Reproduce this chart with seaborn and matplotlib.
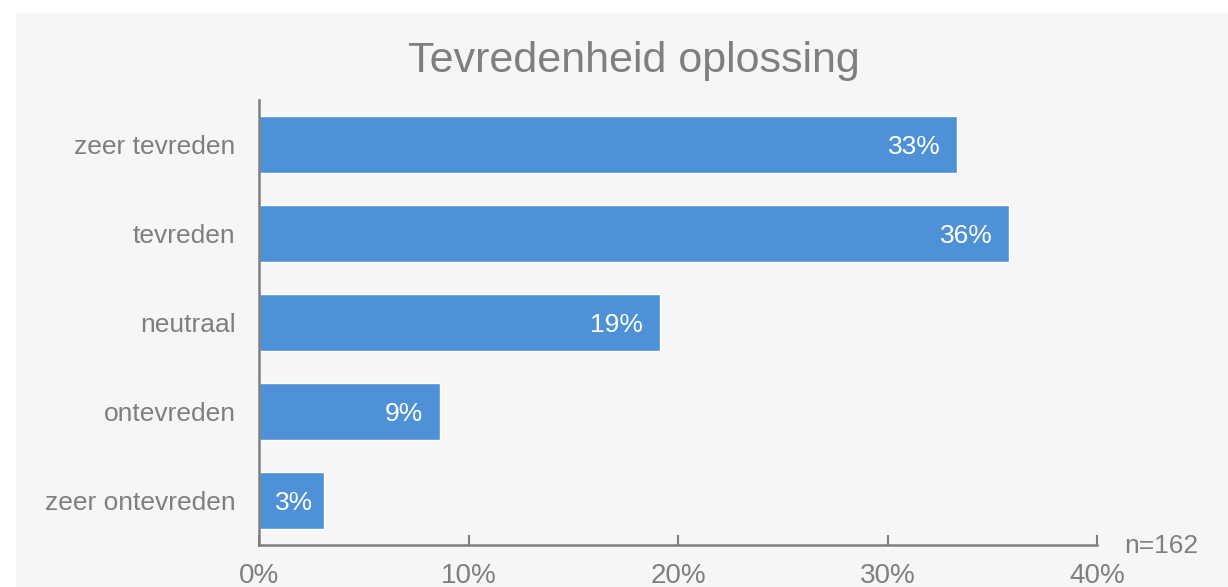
import matplotlib
matplotlib.use("Agg")
import matplotlib.pyplot as plt
import seaborn as sns
import pandas as pd
from matplotlib.patches import Rectangle

# survey answers (n=162)
categories = ["zeer tevreden", "tevreden", "neutraal", "ontevreden", "zeer ontevreden"]
counts = [54, 58, 31, 14, 5]
n_total = 162
percent = [c / n_total * 100 for c in counts]
x_ticks = [0, 10, 20, 30, 40]
x_tick_labels = ["0%", "10%", "20%", "30%", "40%"]

df = pd.DataFrame({"antwoord": categories, "pct": percent})

sns.set_style("white")
plt.rcParams['font.family'] = ['Liberation Sans', 'DejaVu Sans']

GREY = "#7f7f7f"
BLUE = "#4e91d7"

fig = plt.figure(figsize=(12.28, 5.87), dpi=100)
fig.patch.set_facecolor("white")
# light grey panel behind the chart
fig.patches.append(Rectangle((16 / 1228, 0), 1 - 16 / 1228, (587 - 13) / 587,
                             transform=fig.transFigure, color="#f6f6f6", zorder=-10))

ax = fig.add_axes([259 / 1228, 42 / 587, (1097 - 259) / 1228, (545 - 100) / 587])
ax.set_facecolor("none")

sns.barplot(data=df, x="pct", y="antwoord", orient="h", color=BLUE,
            saturation=1, width=0.63, ax=ax)

for i, v in enumerate(percent):
    if v < 5:
        # short bar: label centred in the bar
        ax.text(v / 2 + 0.15, i, f"{v:.0f}%", color="white", ha="center",
                va="center_baseline", fontsize=19)
    else:
        ax.text(v - 0.8, i, f"{v:.0f}%", color="white", ha="right",
                va="center_baseline", fontsize=19)

ax.set_xlim(0, 40)
ax.set_ylim(4.5, -0.5)
ax.set_xticks(x_ticks)
ax.set_xticklabels(x_tick_labels)
ax.set_xlabel("")
ax.set_ylabel("")

for s in ["top", "right"]:
    ax.spines[s].set_visible(False)
for s in ["left", "bottom"]:
    ax.spines[s].set_color(GREY)
    ax.spines[s].set_linewidth(1.8)

ax.tick_params(axis="x", bottom=True, direction="in", length=7, width=1.5,
               color=GREY, labelcolor=GREY, labelsize=20, pad=13)
ax.tick_params(axis="y", left=False, length=0, labelcolor=GREY, labelsize=19,
               pad=17)

ax.text(1.032, -0.03, f"n={n_total}", transform=ax.transAxes, color=GREY,
        fontsize=19, ha="left", va="bottom")

fig.text(0.516, 0.896, "Tevredenheid oplossing", color=GREY, fontsize=31,
         ha="center", va="center")

fig.savefig("out.png", dpi=100, facecolor=fig.get_facecolor())
